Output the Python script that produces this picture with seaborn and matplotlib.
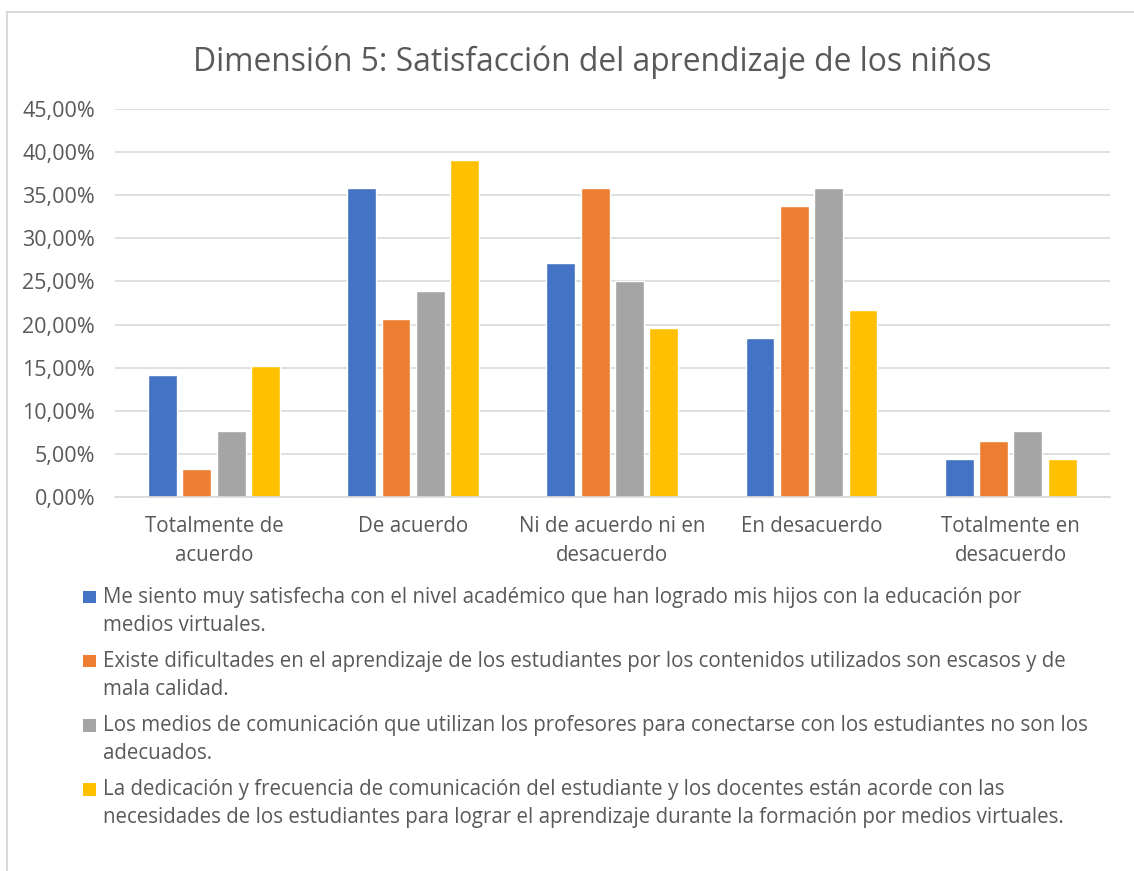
import numpy as np
import pandas as pd
import matplotlib
matplotlib.use("Agg")
import matplotlib.pyplot as plt
import matplotlib.patches as patches
import seaborn as sns

# categories (x axis)
categorias = ["Totalmente de\nacuerdo", "De acuerdo", "Ni de acuerdo ni en\ndesacuerdo",
              "En desacuerdo", "Totalmente en\ndesacuerdo"]

# series labels (legend), already wrapped as in the chart
serie_1 = ("Me siento muy satisfecha con el nivel académico que han logrado mis hijos con la educación por\n"
           "medios virtuales.")
serie_2 = ("Existe dificultades en el aprendizaje de los estudiantes por los contenidos utilizados son escasos y de\n"
           "mala calidad.")
serie_3 = ("Los medios de comunicación que utilizan los profesores para conectarse con los estudiantes no son los\n"
           "adecuados.")
serie_4 = ("La dedicación y frecuencia de comunicación del estudiante y los docentes están acorde con las\n"
           "necesidades de los estudiantes para lograr el aprendizaje durante la formación por medios virtuales.")

# values in percent
valores_1 = [14.13, 35.87, 27.17, 18.48, 4.35]
valores_2 = [3.26, 20.65, 35.87, 33.70, 6.52]
valores_3 = [7.61, 23.91, 25.00, 35.87, 7.61]
valores_4 = [15.22, 39.13, 19.57, 21.74, 4.35]

colores = ["#4472C4", "#ED7D31", "#A5A5A5", "#FFC000"]
y_ticks = [0, 5, 10, 15, 20, 25, 30, 35, 40, 45]

series = [serie_1, serie_2, serie_3, serie_4]
valores = [valores_1, valores_2, valores_3, valores_4]
df = pd.DataFrame({
    "categoria": categorias * 4,
    "serie": [s for s in series for _ in categorias],
    "valor": [v for vals in valores for v in vals],
})

sns.set_theme(style="white")
plt.rcParams["font.family"] = ["Open Sans", "DejaVu Sans"]
texto = "#595959"

fig = plt.figure(figsize=(11.34, 8.71), dpi=100)
ax = fig.add_axes([0.101, 0.4294, 0.878, 0.4455])

sns.barplot(data=df, x="categoria", y="valor", hue="serie", palette=colores,
            width=0.69, gap=0.16, ax=ax, saturation=1, legend=False)

ax.set_ylim(0, 45)
ax.set_yticks(y_ticks)
ax.set_yticklabels([f"{v:.2f}%".replace(".", ",") for v in y_ticks])
ax.yaxis.grid(True, color="#d9d9d9", linewidth=1.2)
ax.set_axisbelow(True)
for side in ["top", "right", "left"]:
    ax.spines[side].set_visible(False)
ax.spines["bottom"].set_color("#d9d9d9")
ax.spines["bottom"].set_linewidth(1.2)
ax.tick_params(axis="both", length=0, colors=texto)
ax.tick_params(axis="x", pad=14, labelsize=14.8)
ax.tick_params(axis="y", pad=14, labelsize=15.5)
for t in ax.get_xticklabels():
    t.set_linespacing(1.45)
ax.set_xlabel("")
ax.set_ylabel("")

fig.text(0.5225, 0.929, "Dimensión 5: Satisfacción del aprendizaje de los niños",
         ha="center", va="center", fontsize=22.9, color=texto)

# legend below the chart: square marker next to the first line of each entry
W, H = 1134, 871
for i, (serie, color) in enumerate(zip(series, colores)):
    y0 = 597 + 64.3 * i
    fig.patches.append(patches.Rectangle((83 / W, 1 - (y0 + 6) / H), 12.5 / W, 12.5 / H,
                                         transform=fig.transFigure, facecolor=color,
                                         edgecolor="none"))
    for j, linea in enumerate(serie.split("\n")):
        fig.text(103 / W, 1 - (y0 + 28 * j) / H, linea, ha="left", va="center",
                 fontsize=14.8, color=texto)

# outer chart border (only top and left visible in the crop)
fig.patches.append(patches.Rectangle((7 / W, -0.05), 1.2, 1 - 12 / H + 0.05,
                                     transform=fig.transFigure, fill=False,
                                     edgecolor="#d9d9d9", linewidth=1.5))

fig.savefig("out.png", dpi=100)
